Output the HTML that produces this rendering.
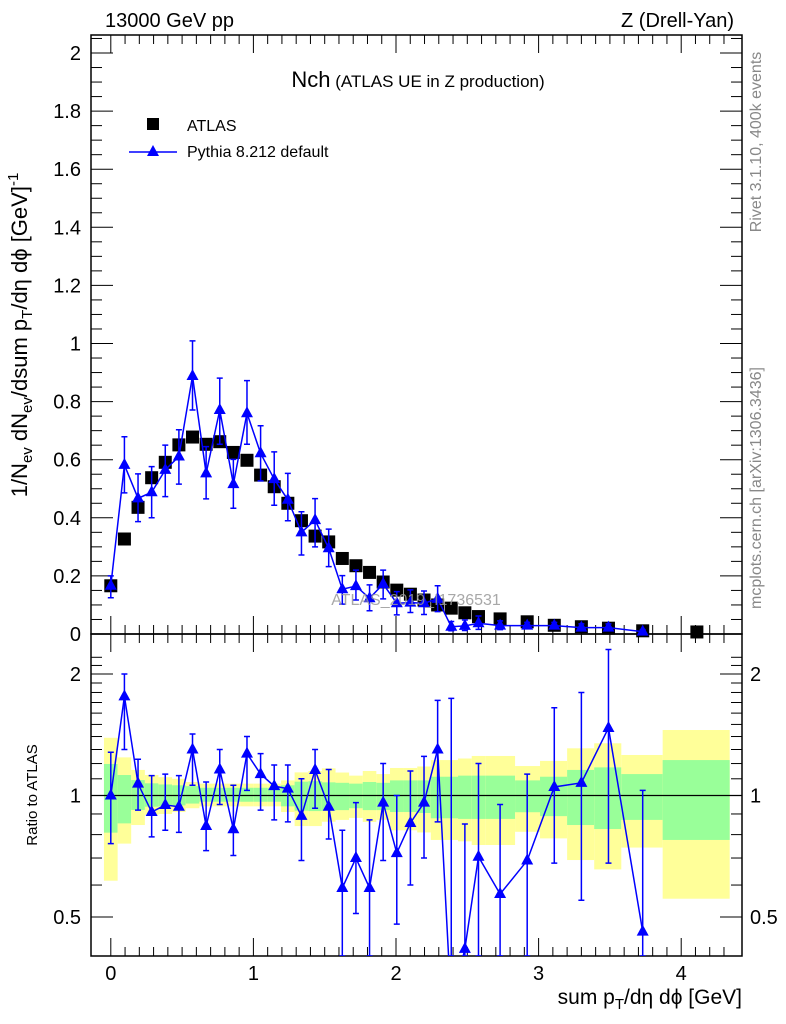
<!DOCTYPE html>
<html><head><meta charset="utf-8"><style>
body{margin:0;background:#fff;}
svg{display:block;font-family:"Liberation Sans",sans-serif;}
</style></head><body>
<svg id="c" width="786" height="1024" xmlns="http://www.w3.org/2000/svg">
<text x="105" y="27" font-size="20">13000 GeV pp</text>
<text x="734" y="27" font-size="20" text-anchor="end">Z (Drell-Yan)</text>
<text x="418" y="87" text-anchor="middle"><tspan font-size="22">Nch</tspan><tspan font-size="17"> (ATLAS UE in Z production)</tspan></text>
<text transform="translate(761,142) rotate(-90)" font-size="16" fill="#888" text-anchor="middle">Rivet 3.1.10,  400k events</text>
<text transform="translate(761,488) rotate(-90)" font-size="16" fill="#888" text-anchor="middle">mcplots.cern.ch [arXiv:1306.3436]</text>
<text transform="translate(27,335) rotate(-90)" font-size="22" text-anchor="middle">1/N<tspan font-size="15" dy="5">ev</tspan><tspan dy="-5"> dN</tspan><tspan font-size="15" dy="5">ev</tspan><tspan dy="-5">/dsum p</tspan><tspan font-size="15" dy="5">T</tspan><tspan dy="-5">/dη dϕ  [GeV]</tspan><tspan font-size="15" dy="-9">-1</tspan></text>
<text transform="translate(37,795) rotate(-90)" font-size="15" text-anchor="middle">Ratio to ATLAS</text>
<text x="742" y="1004" font-size="21" text-anchor="end">sum p<tspan font-size="15" dy="5">T</tspan><tspan dy="-5">/dη dϕ [GeV]</tspan></text>
<g>
<rect x="147" y="118" width="12" height="12" fill="#000"/>
<text x="187" y="131" font-size="16">ATLAS</text>
<line x1="129" y1="152" x2="177" y2="152" stroke="#00f" stroke-width="1.5"/>
<polygon points="153,145 159,156 147,156" fill="#00f"/>
<text x="187" y="157" font-size="16">Pythia 8.212 default</text>
</g>
<g id="bands"></g><g id="axes"></g><g id="marks"></g>
<text x="416" y="605" font-size="16" fill="#999" fill-opacity="0.85" text-anchor="middle">ATLAS_2019_I1736531</text>
</svg>
<script>
const xs=[0,0.0955,0.191,0.2865,0.382,0.4775,0.573,0.6685,0.764,0.8595,0.955,1.0505,1.146,1.2415,1.337,1.4325,1.528,1.6235,1.719,1.8145,1.91,2.0055,2.101,2.1965,2.292,2.3875,2.483,2.5785,2.73,2.92,3.11,3.30,3.49,3.73,4.11];
const edges=[-0.048,0.048,0.143,0.239,0.334,0.43,0.525,0.621,0.716,0.812,0.907,1.003,1.098,1.194,1.289,1.385,1.48,1.576,1.671,1.767,1.862,1.958,2.053,2.149,2.244,2.34,2.435,2.531,2.626,2.835,3.01,3.2,3.39,3.58,3.87,4.34];
const atlas=[0.166,0.327,0.436,0.538,0.591,0.651,0.678,0.653,0.662,0.625,0.598,0.547,0.507,0.45,0.39,0.337,0.317,0.26,0.235,0.212,0.179,0.151,0.137,0.117,0.1,0.089,0.073,0.06,0.052,0.042,0.03,0.025,0.02,0.011,0.007];
const pythia=[0.166,0.582,0.467,0.488,0.565,0.611,0.888,0.553,0.771,0.516,0.76,0.622,0.533,0.462,0.35,0.392,0.295,0.154,0.165,0.123,0.172,0.106,0.108,0.106,0.121,0.025,0.028,0.037,0.029,0.029,0.029,0.022,0.022,0.008];
const pythiaHi=[0.2,0.679,0.551,0.576,0.65,0.703,1.009,0.645,0.881,0.601,0.872,0.717,0.627,0.553,0.421,0.466,0.361,0.201,0.22,0.169,0.22,0.146,0.152,0.148,0.166,0.043,0.048,0.062,0.045,0.04,0.04,0.035,0.035,0.015];
const pythiaLo=[0.125,0.486,0.387,0.4,0.473,0.516,0.771,0.465,0.653,0.433,0.653,0.527,0.443,0.39,0.272,0.3,0.232,0.103,0.117,0.08,0.121,0.066,0.074,0.067,0.077,0.011,0.012,0.016,0.015,0.018,0.018,0.012,0.012,0.003];
const ratio=[1.0,1.76,1.07,0.91,0.947,0.938,1.3,0.84,1.16,0.825,1.27,1.13,1.055,1.04,0.89,1.157,0.938,0.59,0.7,0.59,0.96,0.72,0.855,0.96,1.3,0.3,0.417,0.705,0.57,0.69,1.05,1.075,1.47,0.46];
const ratioHi=[1.28,2.0,1.23,1.12,1.13,1.12,1.42,1.08,1.3,1.06,1.4,1.27,1.19,1.19,1.1,1.3,1.16,0.82,0.96,0.87,1.2,1.0,1.15,1.25,1.72,1.74,0.85,1.2,0.95,1.13,1.65,1.8,2.3,1.03];
const ratioLo=[0.76,1.3,0.92,0.79,0.82,0.81,1.06,0.73,0.95,0.71,1.03,0.92,0.87,0.86,0.69,0.93,0.78,0.3,0.51,0.3,0.69,0.48,0.6,0.7,0.86,0.3,0.3,0.3,0.3,0.3,0.68,0.55,0.68,0.3];
const yelHi=[1.39,1.243,1.157,1.124,1.11,1.1,1.08,1.07,1.07,1.07,1.07,1.07,1.07,1.09,1.141,1.15,1.168,1.14,1.12,1.15,1.13,1.17,1.17,1.18,1.224,1.224,1.235,1.253,1.253,1.183,1.218,1.309,1.347,1.26,1.453];
const yelLo=[0.615,0.76,0.845,0.895,0.9,0.91,0.93,0.94,0.94,0.94,0.94,0.94,0.94,0.91,0.84,0.84,0.861,0.87,0.88,0.86,0.87,0.82,0.82,0.81,0.776,0.776,0.77,0.754,0.754,0.813,0.783,0.692,0.656,0.743,0.555];
const grnHi=[1.197,1.124,1.092,1.072,1.065,1.06,1.055,1.045,1.045,1.045,1.045,1.045,1.045,1.06,1.082,1.085,1.078,1.075,1.07,1.08,1.075,1.09,1.09,1.09,1.113,1.113,1.12,1.12,1.12,1.09,1.113,1.157,1.174,1.13,1.224];
const grnLo=[0.809,0.853,0.921,0.938,0.94,0.945,0.955,0.965,0.965,0.965,0.965,0.965,0.965,0.94,0.917,0.915,0.917,0.92,0.93,0.92,0.92,0.91,0.91,0.905,0.878,0.878,0.875,0.875,0.875,0.909,0.889,0.845,0.826,0.87,0.776];
const xTicks=[0,1,2,3,4];
const yTicks=[0,0.2,0.4,0.6,0.8,1,1.2,1.4,1.6,1.8,2];
const yTickLabels=["0","0.2","0.4","0.6","0.8","1","1.2","1.4","1.6","1.8","2"];
const rTicks=[0.5,1,2];
const rTickLabels=["0.5","1","2"];

const NS="http://www.w3.org/2000/svg";
const L=91,R=742,T=35,MB=634,RB=956;
const X=v=>110.8+142.6*v;
const Y=v=>634-290.5*v;
const RY=r=>795.5-121.5*Math.log2(r);
const clampR=y=>Math.min(Math.max(y,MB),RB);
function mk(tag,attrs,parent){const e=document.createElementNS(NS,tag);for(const k in attrs)e.setAttribute(k,attrs[k]);parent.appendChild(e);return e;}
const gB=document.getElementById('bands'),gA=document.getElementById('axes'),gM=document.getElementById('marks');

for(let i=0;i<xs.length;i++){
  const x0=X(edges[i]),x1=X(Math.min(edges[i+1],4.34));
  let e=mk('rect',{x:x0,y:RY(yelHi[i]),width:x1-x0,height:RY(yelLo[i])-RY(yelHi[i]),fill:'#ffff99'},gB);
  
  
  e=mk('rect',{x:x0,y:RY(grnHi[i]),width:x1-x0,height:RY(grnLo[i])-RY(grnHi[i]),fill:'#99ff99'},gB);
  
  
}
let u=mk('line',{x1:L,x2:R,y1:RY(1),y2:RY(1),stroke:'#000','stroke-width':1.2},gA);


let f=mk('rect',{x:L,y:T,width:R-L,height:MB-T,fill:'none',stroke:'#000','stroke-width':1.5},gA);


f=mk('rect',{x:L,y:MB,width:R-L,height:RB-MB,fill:'none',stroke:'#000','stroke-width':1.5},gA);


for(let v=0;v<=4.35;v+=0.1){
  const vv=Math.round(v*10)/10, major=Math.abs(vv-Math.round(vv))<1e-6, len=major?18:9, x=X(vv);
  for(const [y0,dir] of [[MB,-1],[T,1],[RB,-1],[MB,1]]){
    const t=mk('line',{x1:x,x2:x,y1:y0,y2:y0+dir*len,stroke:'#000','stroke-width':1},gA);
    
    
  }
}
xTicks.forEach(v=>{const t=mk('text',{x:X(v),y:980,'font-size':20,'text-anchor':'middle'},gA);t.textContent=String(v);
  
  });
for(let k=0;k<=41;k++){
  const v=k*0.05, major=k%4==0, len=major?22:11, y=Y(v);
  if(y<T-0.5)continue;
  for(const [x0,dir] of [[L,1],[R,-1]]){
    const t=mk('line',{x1:x0,x2:x0+dir*len,y1:y,y2:y,stroke:'#000','stroke-width':1},gA);
    
    
  }
}
yTicks.forEach((v,i)=>{const t=mk('text',{x:81,y:Y(v)+7,'font-size':20,'text-anchor':'end'},gA);t.textContent=yTickLabels[i];
  
  });
for(let k=4;k<=22;k++){
  const v=k/10, y=RY(v);
  if(y<MB||y>RB)continue;
  const major=(k==5||k==10||k==20), len=major?22:11;
  for(const [x0,dir] of [[L,1],[R,-1]]){
    const t=mk('line',{x1:x0,x2:x0+dir*len,y1:y,y2:y,stroke:'#000','stroke-width':1},gA);
    
    
  }
}
rTicks.forEach((v,i)=>{
  let t=mk('text',{x:81,y:RY(v)+7,'font-size':20,'text-anchor':'end'},gA);t.textContent=rTickLabels[i];
  
  
  t=mk('text',{x:750,y:RY(v)+7,'font-size':20},gA);t.textContent=rTickLabels[i];
  
  
});
atlas.forEach((v,i)=>{const r=mk('rect',{x:X(xs[i])-6.5,y:Y(v)-6.5,width:13,height:13,fill:'#000'},gM);
  
  });
const tri=(x,y)=>`${x},${y-7} ${x+6},${y+4} ${x-6},${y+4}`;
let pts=pythia.map((v,i)=>X(xs[i])+','+Y(v)).join(' ');
let pl=mk('polyline',{points:pts,fill:'none',stroke:'#00f','stroke-width':1.5},gM);


pythia.forEach((v,i)=>{
  const x=X(xs[i]);
  const eb=mk('path',{d:`M${x},${Y(pythiaHi[i])}V${Y(pythiaLo[i])}M${x-3},${Y(pythiaHi[i])}h6M${x-3},${Y(pythiaLo[i])}h6`,stroke:'#00f','stroke-width':1.5,fill:'none'},gM);
  
  
  const p=mk('polygon',{points:tri(x,Y(v)),fill:'#00f'},gM);
  
  
});
const cp=mk('clipPath',{id:'rc'},gM);mk('rect',{x:L,y:MB,width:R-L,height:RB-MB},cp);
const gr=mk('g',{'clip-path':'url(#rc)'},gM);


pts=ratio.map((v,i)=>X(xs[i])+','+RY(v)).join(' ');
pl=mk('polyline',{points:pts,fill:'none',stroke:'#00f','stroke-width':1.5},gr);


ratio.forEach((v,i)=>{
  const x=X(xs[i]),yh=clampR(RY(ratioHi[i])),yl=clampR(RY(ratioLo[i]));
  const eb=mk('path',{d:`M${x},${yh}V${yl}M${x-3},${yh}h6M${x-3},${yl}h6`,stroke:'#00f','stroke-width':1.5,fill:'none'},gr);
  
  
  const p=mk('polygon',{points:tri(x,RY(v)),fill:'#00f'},gr);
  
  
});
</script>
</body></html>
